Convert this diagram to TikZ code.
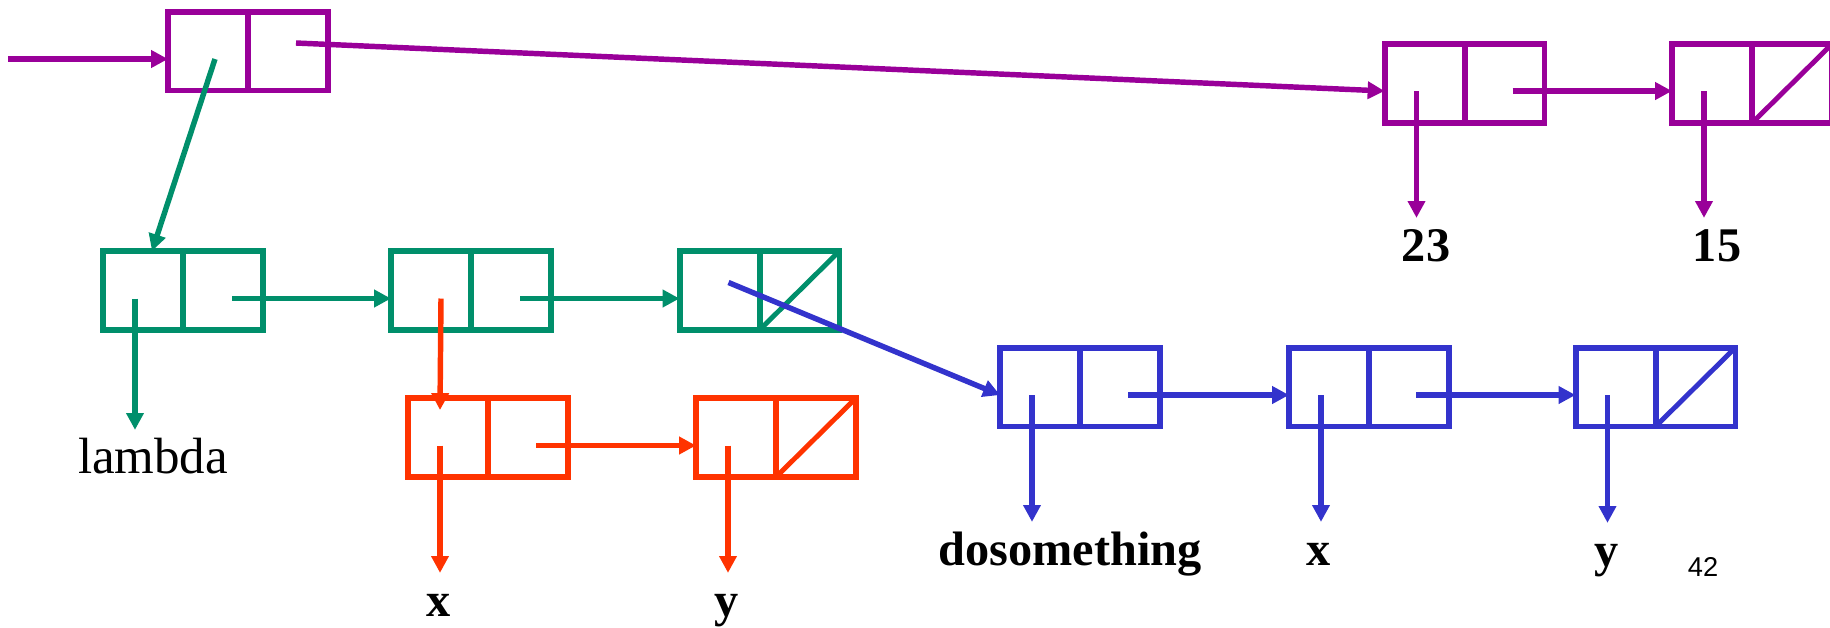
\documentclass[tikz,border=0pt]{standalone}
\usepackage{fontspec}
\setmainfont{Liberation Serif}
\newfontfamily\slidesans{Liberation Sans}
\usetikzlibrary{arrows.meta,positioning,calc}

\definecolor{lsppurple}{RGB}{153,0,153}
\definecolor{lspgreen}{RGB}{0,143,107}
\definecolor{lspred}{RGB}{255,51,0}
\definecolor{lspblue}{RGB}{51,51,204}

\begin{document}
\begin{tikzpicture}[x=0.02cm,y=-0.02cm,
   half/.style={rectangle,draw,line width=3.4pt,inner sep=0pt,outer sep=0pt,minimum width=1.6cm,minimum height=1.58cm},
   ptr/.style={line width=3.1pt,-{Triangle[length=9.6pt,width=9.6pt]}},
   nil/.style={line width=2.8pt},
   lbl/.style={inner sep=0.16cm,text height=19.8pt,text depth=0pt,anchor=base,font=\bfseries\fontsize{27.5}{30}\selectfont}]
   \useasboundingbox (0,0) rectangle (1830,627);
   % cons cells
   \path (208,51)      node (tcar)  [half,draw=lsppurple] {}
         (288,51)      node (tcdr)  [half,draw=lsppurple] {};
   \path (1424.5,83.5) node (nacar) [half,draw=lsppurple] {}
         (1504.5,83.5) node (nacdr) [half,draw=lsppurple] {};
   \path (1712,83.5)   node (nbcar) [half,draw=lsppurple] {}
         (1792,83.5)   node (nbcdr) [half,draw=lsppurple] {};
   \path (143,290.5)   node (lacar) [half,draw=lspgreen] {}
         (223,290.5)   node (lacdr) [half,draw=lspgreen] {};
   \path (431,290.5)   node (lbcar) [half,draw=lspgreen] {}
         (511,290.5)   node (lbcdr) [half,draw=lspgreen] {};
   \path (719.5,290.5) node (lccar) [half,draw=lspgreen] {}
         (799.5,290.5) node (lccdr) [half,draw=lspgreen] {};
   \path (448,437.5)   node (pacar) [half,draw=lspred] {}
         (528,437.5)   node (pacdr) [half,draw=lspred] {};
   \path (736,437.5)   node (pbcar) [half,draw=lspred] {}
         (816,437.5)   node (pbcdr) [half,draw=lspred] {};
   \path (1040,387)    node (dacar) [half,draw=lspblue] {}
         (1120,387)    node (dacdr) [half,draw=lspblue] {};
   \path (1329,387)    node (dbcar) [half,draw=lspblue] {}
         (1409,387)    node (dbcdr) [half,draw=lspblue] {};
   \path (1615.5,387)  node (dccar) [half,draw=lspblue] {}
         (1695.5,387)  node (dccdr) [half,draw=lspblue] {};
   % atoms
   \node[lbl] (n23) at (1426,261) {23};
   \node[lbl] (n15) at (1717,261) {15};
   \node[lbl,font=\fontsize{29}{32}\selectfont] (lambda) at (153,473) {lambda};
   \node[lbl] (xr) at (439,616) {x};
   \node[lbl] (yr) at (727,616) {y};
   \node[lbl] (dosth) at (1070,565) {dosomething};
   \node[lbl] (xb) at (1319,565) {x};
   \node[lbl] (yb) at (1607,566) {y};
   \node[anchor=base,font=\slidesans\fontsize{15.5}{18}\selectfont] (page) at (1703,576) {42};
   % empty cdr
   \draw[nil,lsppurple] (nbcdr.south west) -- (nbcdr.north east);
   \draw[nil,lspgreen]  (lccdr.south west) -- (lccdr.north east);
   \draw[nil,lspred]    (pbcdr.south west) -- (pbcdr.north east);
   \draw[nil,lspblue]   (dccdr.south west) -- (dccdr.north east);
   % pointers
   \coordinate (entry) at (8,59);
   \draw[ptr,lsppurple] (entry) -- ($(tcar.west)+(0,8)$);
   \draw[ptr,lsppurple] ($(tcdr.center)+(8,-8)$) -- ($(nacar.west)+(0,7.5)$);
   \draw[ptr,lsppurple] ($(nacdr.center)+(8,7.5)$) -- ($(nbcar.west)+(0,7.5)$);
   \draw[ptr,lsppurple] ($(nacar.center)+(-8,7.5)$) coordinate (s) -- (s |- n23.north);
   \draw[ptr,lsppurple] ($(nbcar.center)+(-8,7.5)$) coordinate (s) -- (s |- n15.north);
   \draw[ptr,lspgreen] ($(tcar.center)+(7,8)$) -- ($(lacar.north)+(9,0)$);
   \draw[ptr,lspgreen] ($(lacdr.center)+(9,8)$) -- ($(lbcar.west)+(0,8)$);
   \draw[ptr,lspgreen] ($(lbcdr.center)+(9,8)$) -- ($(lccar.west)+(0,8)$);
   \draw[ptr,lspgreen] ($(lacar.center)+(-8,8)$) coordinate (s) -- (s |- lambda.north);
   \draw[ptr,lspred] ($(lbcar.center)+(10,8)$) -- ($(pacar.north)+(-8,12)$);
   \draw[ptr,lspred] ($(pacdr.center)+(8,8)$) -- ($(pbcar.west)+(0,8)$);
   \draw[ptr,lspred] ($(pacar.center)+(-8,8)$) coordinate (s) -- (s |- xr.north);
   \draw[ptr,lspred] ($(pbcar.center)+(-8,8)$) coordinate (s) -- (s |- yr.north);
   \draw[ptr,lspblue] ($(lccar.center)+(9,-8)$) -- ($(dacar.west)+(0,8)$);
   \draw[ptr,lspblue] ($(dacdr.center)+(8,8)$) -- ($(dbcar.west)+(0,8)$);
   \draw[ptr,lspblue] ($(dbcdr.center)+(7,8)$) -- ($(dccar.west)+(0,8)$);
   \draw[ptr,lspblue] ($(dacar.center)+(-8,8)$) coordinate (s) -- (s |- dosth.north);
   \draw[ptr,lspblue] ($(dbcar.center)+(-8,8)$) coordinate (s) -- (s |- xb.north);
   \draw[ptr,lspblue] ($(dccar.center)+(-8,8)$) coordinate (s) -- (s |- yb.north);
\end{tikzpicture}
\end{document}
